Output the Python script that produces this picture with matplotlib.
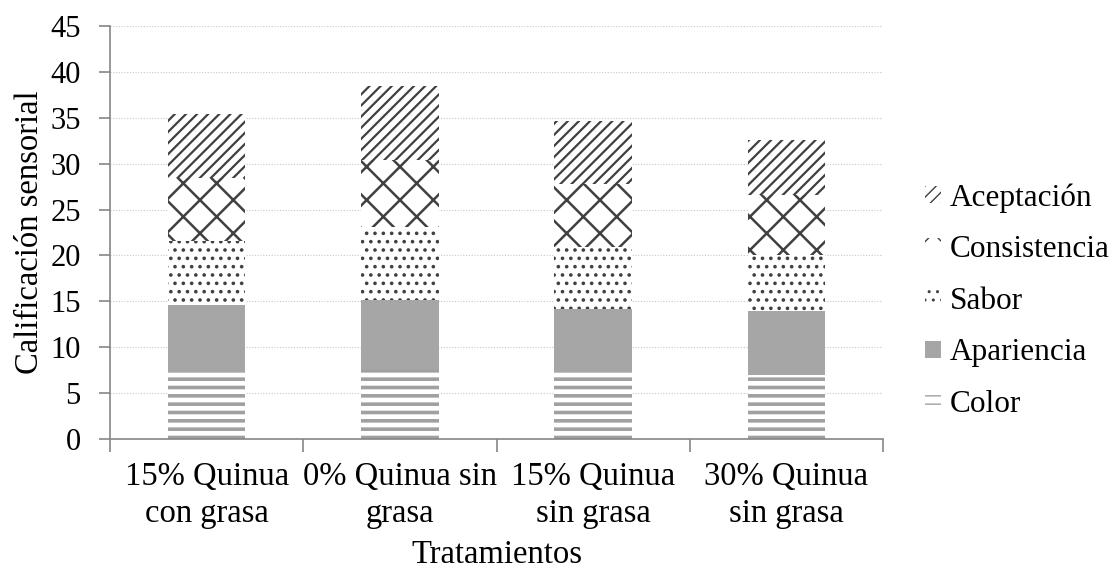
import matplotlib
matplotlib.use("Agg")
import matplotlib.pyplot as plt
import numpy as np

# Data
treatments = ["15% Quinua\ncon grasa", "0% Quinua sin\ngrasa",
              "15% Quinua\nsin grasa", "30% Quinua\nsin grasa"]
color = [7.3, 7.6, 7.3, 7.0]
apariencia = [7.3, 7.5, 6.9, 6.95]
sabor = [7.0, 8.0, 6.7, 6.05]
consistencia = [6.8, 7.3, 6.9, 6.55]
aceptacion = [7.0, 8.1, 6.8, 6.05]

plt.rcParams.update({
    "font.family": "Liberation Serif",
    "font.size": 22,
})

AXIS_GREY = "#868686"

fig = plt.figure(figsize=(11.16, 5.69), dpi=100)
ax = fig.add_axes([110 / 1116, 1 - 439 / 569, 773 / 1116, 413 / 569])

x = np.arange(len(treatments))
width = 0.40

series = [
    ("Color", color, dict(facecolor="white", edgecolor="#a0a0a0", hatch="--"), 2.6),
    ("Apariencia", apariencia, dict(facecolor="#a6a6a6", edgecolor="#a6a6a6"), 1.0),
    ("Sabor", sabor, dict(facecolor="white", edgecolor="#404040", hatch=".."), 1.4),
    ("Consistencia", consistencia, dict(facecolor="white", edgecolor="#404040", hatch="x"), 1.8),
    ("Aceptación", aceptacion, dict(facecolor="white", edgecolor="#404040", hatch="///"), 1.6),
]

bottom = np.zeros(len(treatments))
handles = []
for name, vals, style, hlw in series:
    with plt.rc_context({"hatch.linewidth": hlw}):
        bars = ax.bar(x, vals, width, bottom=bottom, linewidth=0, label=name,
                      zorder=2, **style)
    handles.append(bars)
    bottom = bottom + np.array(vals)

ax.set_ylim(0, 45)
ax.set_xlim(-0.5, len(treatments) - 0.5)
ax.set_yticks(np.arange(0, 46, 5))
ax.yaxis.grid(True, linestyle=(0, (1, 1.5)), color="#c8c8c8", linewidth=0.8, zorder=0)
ax.set_axisbelow(True)

ax.set_xticks(x)
ax.set_xticklabels(treatments, linespacing=1.27, fontsize=23.5)
ax.set_xticks(np.arange(-0.5, len(treatments)), minor=True)
ax.tick_params(axis="x", which="major", length=0, pad=16)
ax.tick_params(axis="x", which="minor", length=9, color=AXIS_GREY, width=1.2, direction="out")
ax.tick_params(axis="y", length=8, color=AXIS_GREY, width=1.2, direction="out", pad=13)

for side in ("top", "right"):
    ax.spines[side].set_visible(False)
for side in ("left", "bottom"):
    ax.spines[side].set_color(AXIS_GREY)
    ax.spines[side].set_linewidth(1.2)

ax.set_ylabel("Calificación sensorial", fontsize=23.5, labelpad=4)
ax.set_xlabel("Tratamientos", fontsize=23.5, labelpad=8)

leg = ax.legend(handles[::-1], [s[0] for s in series][::-1],
                loc="center left", bbox_to_anchor=(925 / 1116, 1 - 301 / 569),
                bbox_transform=fig.transFigure, frameon=False, fontsize=22.5,
                handlelength=0.5, handleheight=0.45, handletextpad=0.3,
                labelspacing=0.72, borderaxespad=0, borderpad=0)

fig.savefig("out.png", dpi=100)
